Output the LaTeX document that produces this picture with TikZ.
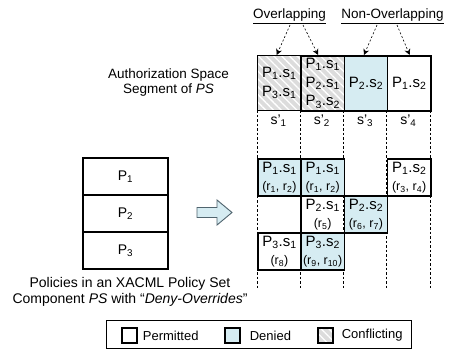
\documentclass[tikz,border=0pt]{standalone}
\usepackage{fontspec}
\setmainfont{Liberation Sans}
\usetikzlibrary{patterns.meta,arrows.meta}
\definecolor{deny}{RGB}{214,236,242}
\definecolor{confl}{RGB}{220,220,220}
\definecolor{arrowedge}{RGB}{80,100,110}
\newcommand{\Ps}[2]{P\textsubscript{#1}.s\textsubscript{#2}}
\newcommand{\rr}[1]{{\fontsize{12.5}{14}\selectfont #1}}
\begin{document}
\begin{tikzpicture}[x=1pt,y=-1pt,
  cellbase/.style={draw=black, line width=1.6pt, minimum width=43.25pt, inner sep=0pt, anchor=north west, align=center},
  topcell/.style={cellbase, minimum height=55pt, font=\fontsize{15}{19}\selectfont},
  botcell/.style={cellbase, minimum height=37pt, font=\fontsize{15}{18}\selectfont},
  denyfill/.style={fill=deny},
  hatch/.style={preaction={fill=confl}, pattern={Lines[angle=-45,distance=5.5pt,line width=1.3pt]}, pattern color=white},
  pbox/.style={draw=black, line width=1.3pt, minimum width=85pt, minimum height=37pt, inner sep=0pt, font=\fontsize{14}{16}\selectfont},
  slabel/.style={font=\fontsize{14}{16}\selectfont, inner sep=0pt},
  toplabel/.style={font=\fontsize{13.5}{16}\selectfont, inner sep=1pt, anchor=base},
  dasharr/.style={dashed, dash pattern=on 2pt off 2pt, line width=0.6pt, -{Stealth[length=6pt,width=6pt]}},
  guide/.style={dashed, dash pattern=on 2.5pt off 2pt, line width=0.6pt},
  lsq/.style={draw=black, line width=1.3pt, minimum size=15pt, inner sep=0pt},
  ltxt/.style={font=\fontsize{13}{15}\selectfont, inner sep=0pt, anchor=west},
  caption/.style={align=center, font=\fontsize{14}{16}\selectfont}
]
\useasboundingbox (0,0) rectangle (449,350);

% dashed column guides
\foreach \x in {257,300.25,343.5,386.75,430}
  \draw[guide] (\x,110) -- (\x,288);

% authorization space segment
\node[topcell, hatch] (t1) at (257,55) {\Ps11\\\Ps31};
\node[topcell, hatch, font=\fontsize{15}{18.5}\selectfont] (t2) at (300.25,55) {\Ps11\\\Ps21\\\Ps32};
\node[topcell, denyfill] (t3) at (343.5,55) {\Ps22};
\node[topcell] (t4) at (386.75,55) {\Ps12};

\node[slabel] (s1) at (278.6,121) {s'\textsubscript{1}};
\node[slabel] (s2) at (321.9,121) {s'\textsubscript{2}};
\node[slabel] (s3) at (365.1,121) {s'\textsubscript{3}};
\node[slabel] (s4) at (408.4,121) {s'\textsubscript{4}};

% top labels and arrows
\node[toplabel] (ov) at (289.5,19) {\underline{Overlapping}};
\node[toplabel] (nov) at (392.5,19) {\underline{Non-Overlapping}};
\draw[dasharr] ([xshift=0.5pt]ov.south) -- ([xshift=-2.6pt]t1.north);
\draw[dasharr] ([xshift=13.5pt]ov.south) -- ([xshift=-4.5pt]t2.north);
\draw[dasharr] ([xshift=-15.5pt]nov.south) -- ([xshift=-2pt]t3.north);
\draw[dasharr] ([xshift=4.5pt]nov.south) -- ([xshift=0.5pt]t4.north);

\node[align=center, font=\fontsize{13.5}{15.5}\selectfont] (auth) at (168.5,82.5) {Authorization Space\\Segment of \textit{PS}};

% policy decision grid
\node[botcell, denyfill] (b11) at (257,158) {\Ps11\\\rr{(r\textsubscript{1}, r\textsubscript{2})}};
\node[botcell, denyfill] (b12) at (300.25,158) {\Ps11\\\rr{(r\textsubscript{1}, r\textsubscript{2})}};
\node[botcell] (b14) at (386.75,158) {\Ps12\\\rr{(r\textsubscript{3}, r\textsubscript{4})}};
\node[botcell] (b22) at (300.25,195) {\Ps21\\\rr{(r\textsubscript{5})}};
\node[botcell, denyfill] (b23) at (343.5,195) {\Ps22\\\rr{(r\textsubscript{6}, r\textsubscript{7})}};
\node[botcell] (b31) at (257,232) {\Ps31\\\rr{(r\textsubscript{8})}};
\node[botcell, denyfill] (b32) at (300.25,232) {\Ps32\\\rr{(r\textsubscript{9}, r\textsubscript{10})}};

% policy set stack
\node[pbox] (p1) at (125.5,176.5) {P\textsubscript{1}};
\node[pbox] (p2) at (125.5,213.5) {P\textsubscript{2}};
\node[pbox] (p3) at (125.5,250.5) {P\textsubscript{3}};

\node[caption] (cap) at (130,292) {Policies in an XACML Policy Set\\Component \textit{PS} with ``\textit{Deny-Overrides}''};

% block arrow
\draw[fill=deny, draw=arrowedge, line width=0.9pt, line join=miter]
  (197,207.5) -- (217,207.5) -- (217,200) -- (232,212.5) -- (217,225) -- (217,217.5) -- (197,217.5) -- cycle;

% legend
\node[draw=black, line width=1pt, minimum width=305pt, minimum height=28pt, inner sep=0pt, anchor=north west] (leg) at (106,320) {};
\node[lsq] (lp) at (129.5,335.5) {};
\node[ltxt] (lpt) at ([xshift=5pt]lp.east) {Permitted};
\node[lsq, denyfill] (ld) at (232.5,335.5) {};
\node[ltxt] (ldt) at ([xshift=9pt]ld.east) {Denied};
\node[lsq, hatch] (lc) at (325.5,335.5) {};
\node[ltxt] (lct) at ([xshift=8pt]lc.east) {Conflicting};
\end{tikzpicture}
\end{document}
